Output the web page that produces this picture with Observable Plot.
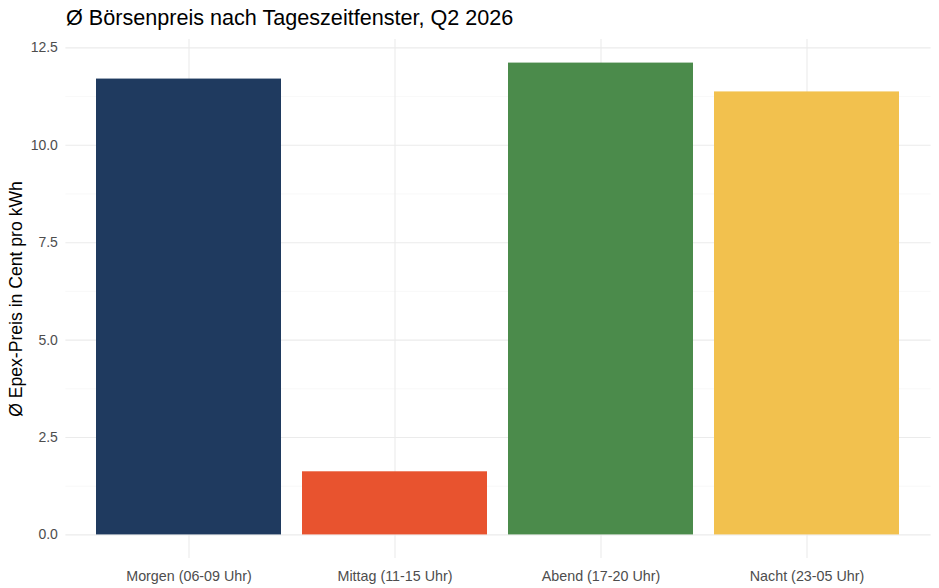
<!DOCTYPE html>
<html>
<head>
<meta charset="utf-8">
<script src="https://cdn.jsdelivr.net/npm/d3@7"></script>
<script src="https://cdn.jsdelivr.net/npm/@observablehq/plot@0.6"></script>
<style>
  html, body { margin: 0; padding: 0; background: #fff; }
  body { width: 939px; height: 588px; overflow: hidden; font-family: "Liberation Sans", Arial, Helvetica, sans-serif; }
  #title { height: 36px; line-height: 36px; padding-left: 66px; font-size: 21.6px; color: #000; white-space: nowrap; }
</style>
</head>
<body>
<div id="title">Ø Börsenpreis nach Tageszeitfenster, Q2 2026</div>
<div id="chart"></div>
<script>
const categories = ["Morgen (06-09 Uhr)", "Mittag (11-15 Uhr)", "Abend (17-20 Uhr)", "Nacht (23-05 Uhr)"];
const values = [11.70, 1.62, 12.11, 11.37];
const colors = ["#1f3a5f", "#e8532f", "#4b8b4b", "#f2c14e"];
const yTicks = [0, 2.5, 5, 7.5, 10, 12.5];
const yMinor = [1.25, 3.75, 6.25, 8.75, 11.25];
const yLabel = "Ø Epex-Preis in Cent pro kWh";

const data = categories.map((c, i) => ({cat: c, value: values[i]}));
const maxV = d3.max(values);
const pad = maxV * 0.05;

const chart = Plot.plot({
  width: 939,
  height: 552,
  marginLeft: 65.4,
  marginRight: 8.4,
  marginTop: 3,
  marginBottom: 30,
  style: {fontFamily: "'Liberation Sans', Arial, Helvetica, sans-serif", background: "#fff"},
  x: {domain: categories, paddingInner: 0.1, paddingOuter: 0.15, label: null},
  y: {domain: [-pad, maxV + pad], label: null},
  color: {domain: categories, range: colors},
  marks: [
    Plot.ruleY(yMinor, {stroke: "#f3f3f3", strokeWidth: 0.6}),
    Plot.ruleY(yTicks, {stroke: "#ebebeb", strokeWidth: 1.1}),
    Plot.gridX({stroke: "#ebebeb", strokeOpacity: 1, strokeWidth: 1.1}),
    Plot.barY(data, {x: "cat", y: "value", fill: "cat"}),
    Plot.axisY({ticks: yTicks, tickFormat: d3.format(".1f"), tickSize: 0, tickPadding: 8, fontSize: 14, color: "#4d4d4d", label: null}),
    Plot.axisX({tickSize: 0, tickPadding: 12, fontSize: 14.3, color: "#4d4d4d", label: null}),
    Plot.text([yLabel], {frameAnchor: "left", textAnchor: "middle", rotate: -90, dx: -50, fontSize: 17.6, fill: "#000"})
  ]
});
document.getElementById("chart").appendChild(chart);
</script>
</body>
</html>
